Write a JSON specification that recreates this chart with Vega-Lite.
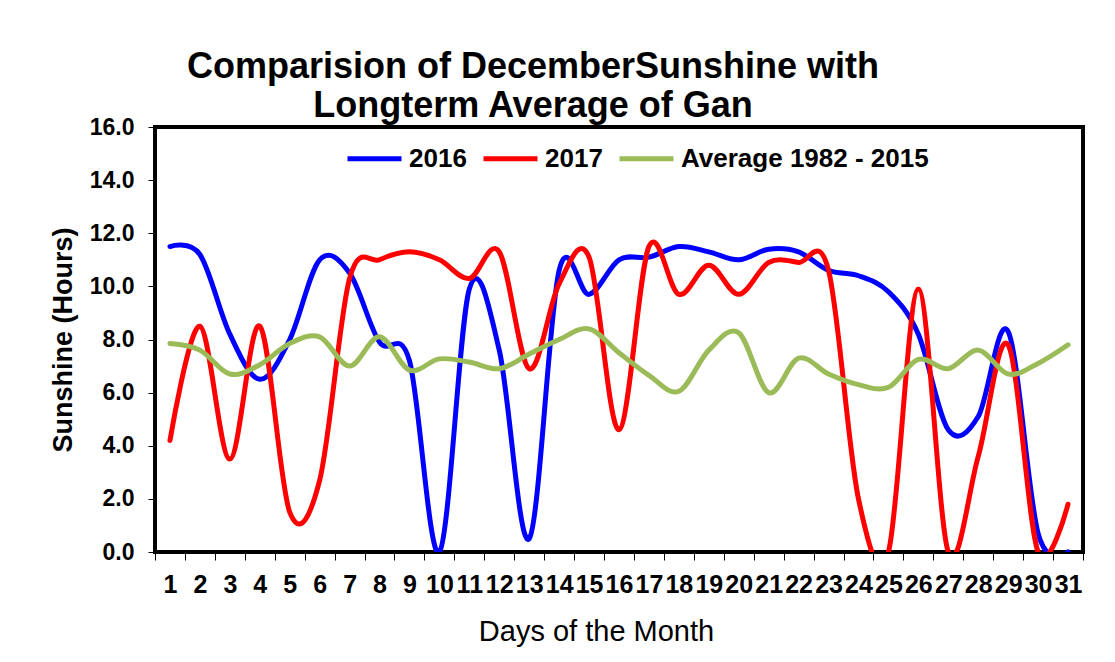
{
  "$schema": "https://vega.github.io/schema/vega-lite/v6.json",
  "width": 928,
  "height": 425,
  "autosize": {"type": "none"},
  "padding": {"left": 155, "top": 127, "right": 32, "bottom": 110},
  "background": "white",
  "config": {
    "font": "Liberation Sans",
    "view": {"stroke": "black", "strokeWidth": 4}
  },
  "title": {
    "text": ["Comparision of DecemberSunshine with", "Longterm Average of Gan"],
    "fontSize": 36,
    "fontWeight": "bold",
    "color": "black",
    "anchor": "middle",
    "frame": "group",
    "dx": -86,
    "lineHeight": 39,
    "offset": -9
  },
  "data": {
    "values": [
      {"day": 1, "series": "2016", "value": 11.5},
      {"day": 2, "series": "2016", "value": 11.2},
      {"day": 3, "series": "2016", "value": 8.2},
      {"day": 4, "series": "2016", "value": 6.5},
      {"day": 5, "series": "2016", "value": 8.0},
      {"day": 6, "series": "2016", "value": 11.0},
      {"day": 7, "series": "2016", "value": 10.5},
      {"day": 8, "series": "2016", "value": 7.9},
      {"day": 9, "series": "2016", "value": 7.2},
      {"day": 10, "series": "2016", "value": 0.0},
      {"day": 11, "series": "2016", "value": 9.9},
      {"day": 12, "series": "2016", "value": 7.6},
      {"day": 13, "series": "2016", "value": 0.5},
      {"day": 14, "series": "2016", "value": 10.6},
      {"day": 15, "series": "2016", "value": 9.7},
      {"day": 16, "series": "2016", "value": 11.0},
      {"day": 17, "series": "2016", "value": 11.1},
      {"day": 18, "series": "2016", "value": 11.5},
      {"day": 19, "series": "2016", "value": 11.3},
      {"day": 20, "series": "2016", "value": 11.0},
      {"day": 21, "series": "2016", "value": 11.4},
      {"day": 22, "series": "2016", "value": 11.3},
      {"day": 23, "series": "2016", "value": 10.6},
      {"day": 24, "series": "2016", "value": 10.4},
      {"day": 25, "series": "2016", "value": 9.8},
      {"day": 26, "series": "2016", "value": 8.2},
      {"day": 27, "series": "2016", "value": 4.6},
      {"day": 28, "series": "2016", "value": 5.1},
      {"day": 29, "series": "2016", "value": 8.3},
      {"day": 30, "series": "2016", "value": 0.7},
      {"day": 31, "series": "2016", "value": 0.0},
      {"day": 1, "series": "2017", "value": 4.2},
      {"day": 2, "series": "2017", "value": 8.5},
      {"day": 3, "series": "2017", "value": 3.5},
      {"day": 4, "series": "2017", "value": 8.5},
      {"day": 5, "series": "2017", "value": 1.5},
      {"day": 6, "series": "2017", "value": 2.7},
      {"day": 7, "series": "2017", "value": 10.3},
      {"day": 8, "series": "2017", "value": 11.0},
      {"day": 9, "series": "2017", "value": 11.3},
      {"day": 10, "series": "2017", "value": 11.0},
      {"day": 11, "series": "2017", "value": 10.3},
      {"day": 12, "series": "2017", "value": 11.3},
      {"day": 13, "series": "2017", "value": 6.9},
      {"day": 14, "series": "2017", "value": 10.1},
      {"day": 15, "series": "2017", "value": 11.1},
      {"day": 16, "series": "2017", "value": 4.6},
      {"day": 17, "series": "2017", "value": 11.5},
      {"day": 18, "series": "2017", "value": 9.7},
      {"day": 19, "series": "2017", "value": 10.8},
      {"day": 20, "series": "2017", "value": 9.7},
      {"day": 21, "series": "2017", "value": 10.9},
      {"day": 22, "series": "2017", "value": 10.9},
      {"day": 23, "series": "2017", "value": 10.6},
      {"day": 24, "series": "2017", "value": 2.0},
      {"day": 25, "series": "2017", "value": 0.0},
      {"day": 26, "series": "2017", "value": 9.9},
      {"day": 27, "series": "2017", "value": 0.0},
      {"day": 28, "series": "2017", "value": 3.6},
      {"day": 29, "series": "2017", "value": 7.8},
      {"day": 30, "series": "2017", "value": 0.0},
      {"day": 31, "series": "2017", "value": 1.8},
      {"day": 1, "series": "Average 1982 - 2015", "value": 7.85},
      {"day": 2, "series": "Average 1982 - 2015", "value": 7.6},
      {"day": 3, "series": "Average 1982 - 2015", "value": 6.7},
      {"day": 4, "series": "Average 1982 - 2015", "value": 7.05},
      {"day": 5, "series": "Average 1982 - 2015", "value": 7.85},
      {"day": 6, "series": "Average 1982 - 2015", "value": 8.1},
      {"day": 7, "series": "Average 1982 - 2015", "value": 7.0},
      {"day": 8, "series": "Average 1982 - 2015", "value": 8.1},
      {"day": 9, "series": "Average 1982 - 2015", "value": 6.85},
      {"day": 10, "series": "Average 1982 - 2015", "value": 7.27},
      {"day": 11, "series": "Average 1982 - 2015", "value": 7.15},
      {"day": 12, "series": "Average 1982 - 2015", "value": 6.9},
      {"day": 13, "series": "Average 1982 - 2015", "value": 7.45},
      {"day": 14, "series": "Average 1982 - 2015", "value": 8.0},
      {"day": 15, "series": "Average 1982 - 2015", "value": 8.4},
      {"day": 16, "series": "Average 1982 - 2015", "value": 7.5},
      {"day": 17, "series": "Average 1982 - 2015", "value": 6.65},
      {"day": 18, "series": "Average 1982 - 2015", "value": 6.05},
      {"day": 19, "series": "Average 1982 - 2015", "value": 7.6},
      {"day": 20, "series": "Average 1982 - 2015", "value": 8.25},
      {"day": 21, "series": "Average 1982 - 2015", "value": 6.0},
      {"day": 22, "series": "Average 1982 - 2015", "value": 7.3},
      {"day": 23, "series": "Average 1982 - 2015", "value": 6.7},
      {"day": 24, "series": "Average 1982 - 2015", "value": 6.3},
      {"day": 25, "series": "Average 1982 - 2015", "value": 6.2},
      {"day": 26, "series": "Average 1982 - 2015", "value": 7.25},
      {"day": 27, "series": "Average 1982 - 2015", "value": 6.9},
      {"day": 28, "series": "Average 1982 - 2015", "value": 7.6},
      {"day": 29, "series": "Average 1982 - 2015", "value": 6.7},
      {"day": 30, "series": "Average 1982 - 2015", "value": 7.1},
      {"day": 31, "series": "Average 1982 - 2015", "value": 7.8}
    ]
  },
  "mark": {"type": "line", "interpolate": "cardinal", "strokeWidth": 5, "clip": true, "strokeCap": "round"},
  "encoding": {
    "x": {
      "field": "day",
      "type": "ordinal",
      "bandPosition": 0.5,
      "scale": {"type": "band", "paddingInner": 0, "paddingOuter": 0},
      "axis": {
        "title": "Days of the Month",
        "titleFontSize": 29,
        "titleFontWeight": "normal",
        "titleColor": "black",
        "titleX": 441,
        "titleY": 88,
        "titleBaseline": "alphabetic",
        "labelAngle": 0,
        "labelFontSize": 25,
        "labelFontWeight": "bold",
        "labelColor": "black",
        "labelPadding": 12,
        "labelOverlap": false,
        "tickBand": "extent",
        "tickSize": 8,
        "tickColor": "black",
        "tickWidth": 1,
        "domain": false,
        "grid": false
      }
    },
    "y": {
      "field": "value",
      "type": "quantitative",
      "scale": {"domain": [0, 16], "nice": false},
      "axis": {
        "title": "Sunshine (Hours)",
        "titleFontSize": 27,
        "titleFontWeight": "bold",
        "titleColor": "black",
        "titlePadding": 12,
        "values": [0, 2, 4, 6, 8, 10, 12, 14, 16],
        "format": ".1f",
        "labelFontSize": 23,
        "labelFontWeight": "bold",
        "labelColor": "black",
        "labelPadding": 14,
        "tickSize": 7,
        "tickColor": "black",
        "tickWidth": 1,
        "domain": false,
        "grid": false
      }
    },
    "color": {
      "field": "series",
      "type": "nominal",
      "scale": {
        "domain": ["2016", "2017", "Average 1982 - 2015"],
        "range": ["#0000FF", "#FF0000", "#9BBB59"]
      },
      "legend": {
        "title": null,
        "orient": "none",
        "direction": "horizontal",
        "legendX": 190,
        "legendY": 2,
        "symbolType": "stroke",
        "symbolSize": 2916,
        "symbolStrokeWidth": 5,
        "labelFontSize": 26,
        "labelFontWeight": "bold",
        "labelColor": "black",
        "labelOffset": 5,
        "columnPadding": 6,
        "labelLimit": 400
      }
    }
  }
}
